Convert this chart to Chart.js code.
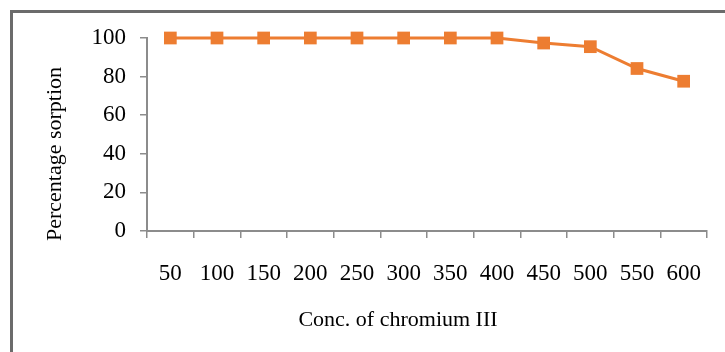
<!DOCTYPE html>
<html>
<head>
<meta charset="utf-8">
<script src="https://cdn.jsdelivr.net/npm/chart.js@4/dist/chart.umd.min.js"></script>
<style>
  html, body { margin:0; padding:0; background:#fff; overflow:hidden; }
  #wrap { position:relative; width:725px; height:352px; }
  #frame { position:absolute; left:10px; top:10px; width:760px; height:400px; border:3px solid #6b6b6b; box-sizing:border-box; pointer-events:none; }
  canvas { position:absolute; left:0; top:0; }
</style>
</head>
<body>
<div id="wrap">
  <canvas id="chart" width="725" height="352"></canvas>
  <div id="frame"></div>
</div>
<script>
// data
const concentrations = ['50','100','150','200','250','300','350','400','450','500','550','600'];
const sorption = [100, 100, 100, 100, 100, 100, 100, 100, 97.4, 95.5, 84.2, 77.6];
const yTicks = [0, 20, 40, 60, 80, 100];
const xTitle = 'Conc. of chromium III';
const yTitle = 'Percentage sorption';

const serif = 'Liberation Serif, Times New Roman, serif';
const axisGrey = '#8c8c8c';

// Excel places the axis titles a little off the plot centre, so draw them by hand
const axisTitles = {
  id: 'axisTitles',
  afterDraw(chart) {
    const ctx = chart.ctx;
    ctx.save();
    ctx.fillStyle = '#000';
    ctx.font = '22px ' + serif;
    ctx.textAlign = 'center';
    ctx.textBaseline = 'middle';
    ctx.fillText(xTitle, 398, 320);
    ctx.translate(55, 154);
    ctx.rotate(-Math.PI / 2);
    ctx.fillText(yTitle, 0, 0);
    ctx.restore();
  }
};

new Chart(document.getElementById('chart'), {
  type: 'line',
  data: {
    labels: concentrations,
    datasets: [{
      data: sorption,
      borderColor: '#ED7D31',
      backgroundColor: '#ED7D31',
      borderWidth: 3,
      pointStyle: 'rect',
      pointRadius: 9,
      pointBorderWidth: 0,
      tension: 0,
      clip: false
    }]
  },
  options: {
    responsive: false,
    animation: false,
    layout: { padding: { left: 43, top: 38, right: 18, bottom: 14 } },
    plugins: { legend: { display: false }, tooltip: { enabled: false } },
    scales: {
      x: {
        offset: true,
        grid: { display: true, offset: true, drawOnChartArea: false, tickLength: 7, color: axisGrey, lineWidth: 1.5 },
        border: { color: axisGrey, width: 2 },
        ticks: { color: '#000', font: { family: serif, size: 23 }, padding: 22, maxRotation: 0, autoSkip: false },
        afterFit: s => { s.height = 107; }
      },
      y: {
        min: 0, max: 100,
        afterBuildTicks: s => { s.ticks = yTicks.map(v => ({ value: v })); },
        grid: { display: true, drawOnChartArea: false, tickLength: 7, color: axisGrey, lineWidth: 1.5 },
        border: { color: axisGrey, width: 2 },
        ticks: { color: '#000', font: { family: serif, size: 23 }, padding: 14 },
        afterFit: s => { s.width = 104; }
      }
    }
  },
  plugins: [axisTitles]
});
</script>
</body>
</html>
